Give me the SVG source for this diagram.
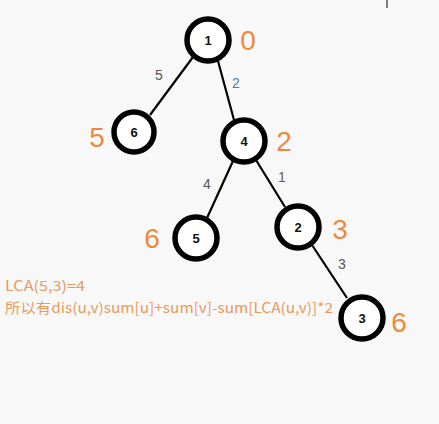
<svg xmlns="http://www.w3.org/2000/svg" width="439" height="424" viewBox="0 0 439 424">
<style>
.bg{fill:#f8f8f8}
.node circle{fill:#ffffff;stroke:#000000;stroke-width:5.5}
.node text{font-family:"Liberation Sans",Arial,sans-serif;font-size:13px;font-weight:bold;fill:#111111;text-anchor:middle}
.edges line{stroke:#000000;stroke-width:2.2}
.elabel{font-family:"Liberation Sans",Arial,sans-serif;font-size:14px;fill:#555555;text-anchor:middle}
.depth{font-family:"Liberation Sans",Arial,sans-serif;font-size:28px;fill:#ee8a3e;text-anchor:middle}
.note{font-family:"Noto Sans CJK SC","Noto Sans",sans-serif;font-size:14px;fill:#e99a5e}
</style>
<rect class="bg" x="0" y="0" width="439" height="424"/>
<line x1="387" y1="0" x2="387" y2="8" stroke="#000" stroke-width="1"/>
<g id="edges" class="edges">
<line x1="193" y1="57" x2="150" y2="115"/>
<line x1="218" y1="61" x2="234" y2="120"/>
<line x1="233" y1="161" x2="207" y2="218"/>
<line x1="256" y1="160" x2="285" y2="207"/>
<line x1="312" y1="245" x2="347" y2="298"/>
<text class="elabel" x="159" y="80">5</text>
<text class="elabel" x="236" y="88" style="fill:#5a7a9a">2</text>
<text class="elabel" x="207" y="189">4</text>
<text class="elabel" x="282" y="182" style="fill:#7a5a2a">1</text>
<text class="elabel" x="342" y="269">3</text>
</g>
<g id="node-1" class="node"><circle cx="208" cy="40" r="21"/><text x="208" y="45">1</text></g>
<g id="node-6" class="node"><circle cx="134" cy="132" r="20"/><text x="134" y="137">6</text></g>
<g id="node-4" class="node"><circle cx="244" cy="141" r="21"/><text x="244" y="146">4</text></g>
<g id="node-5" class="node"><circle cx="196" cy="238" r="21"/><text x="196" y="243">5</text></g>
<g id="node-2" class="node"><circle cx="298" cy="227" r="21"/><text x="298" y="232">2</text></g>
<g id="node-3" class="node"><circle cx="362" cy="318" r="21"/><text x="362" y="323">3</text></g>
<g id="depths">
<text class="depth" x="248" y="50">0</text>
<text class="depth" x="97" y="147">5</text>
<text class="depth" x="284" y="151">2</text>
<text class="depth" x="152" y="248">6</text>
<text class="depth" x="340" y="239">3</text>
<text class="depth" x="399" y="332">6</text>
</g>
<text class="note" x="5" y="291" textLength="80" lengthAdjust="spacingAndGlyphs">LCA(5,3)=4</text>
<text class="note" x="5" y="313" textLength="328" lengthAdjust="spacingAndGlyphs">所以有dis(u,v)sum[u]+sum[v]-sum[LCA(u,v)]*2</text>
</svg>
